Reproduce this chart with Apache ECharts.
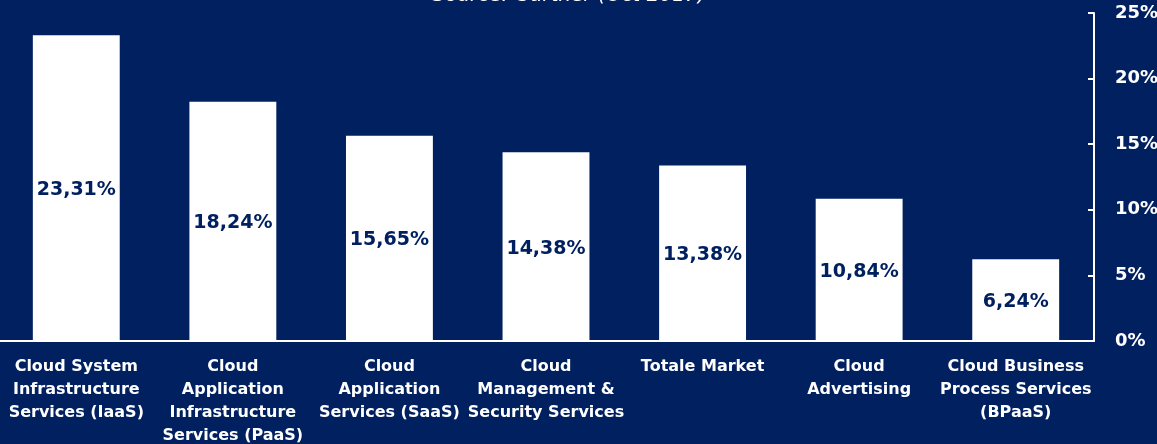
<!DOCTYPE html>
<html>
<head>
<meta charset="utf-8">
<script src="https://cdn.jsdelivr.net/npm/echarts@6/dist/echarts.min.js"></script>
<style>
  html, body { margin: 0; padding: 0; background: #002060; }
  #chart { width: 1157px; height: 444px; }
</style>
</head>
<body>
<div id="chart"></div>
<script>
// data
const categories = [
  'Cloud System\nInfrastructure\nServices (IaaS)',
  'Cloud\nApplication\nInfrastructure\nServices (PaaS)',
  'Cloud\nApplication\nServices (SaaS)',
  'Cloud\nManagement &\nSecurity Services',
  'Totale Market',
  'Cloud\nAdvertising',
  'Cloud Business\nProcess Services\n(BPaaS)'
]
const growth = [23.31, 18.24, 15.65, 14.38, 13.38, 10.84, 6.24]
const yTicks = [0, 5, 10, 15, 20, 25]

const navy = '#002060'
const fontFamily = '"DejaVu Sans", sans-serif'

const chart = echarts.init(document.getElementById('chart'))

chart.setOption({
  backgroundColor: navy,
  animation: false,
  title: {
    text: 'Source: Gartner (Oct 2017)',
    left: 564,
    textAlign: 'center',
    top: -19,
    textStyle: {
      color: '#fff',
      fontSize: 20,
      fontStyle: 'italic',
      fontWeight: 'normal',
      fontFamily: fontFamily
    }
  },
  grid: {
    left: -2,
    right: 63,
    top: 13,
    bottom: 103,
    outerBoundsMode: 'none'
  },
  xAxis: {
    type: 'category',
    data: categories,
    axisLine: { lineStyle: { color: '#fff', width: 2 } },
    axisTick: { show: false },
    axisLabel: {
      color: '#fff',
      fontSize: 16,
      fontWeight: 'bold',
      fontFamily: fontFamily,
      lineHeight: 23,
      margin: 14,
      interval: 0
    }
  },
  yAxis: {
    type: 'value',
    position: 'right',
    min: yTicks[0],
    max: yTicks[yTicks.length - 1],
    interval: 5,
    splitLine: { show: false },
    axisLine: { show: true, lineStyle: { color: '#fff', width: 2 } },
    axisTick: { show: true, inside: true, length: 6, lineStyle: { color: '#fff', width: 2 } },
    axisLabel: {
      color: '#fff',
      fontSize: 18,
      fontWeight: 'bold',
      fontFamily: fontFamily,
      margin: 21,
      formatter: v => v + '%'
    }
  },
  series: [{
    type: 'bar',
    data: growth,
    barWidth: '55.5%',
    itemStyle: { color: '#fff' },
    label: {
      show: true,
      position: 'inside',
      offset: [0, 2],
      color: navy,
      fontSize: 19,
      fontWeight: 'bold',
      fontFamily: fontFamily,
      formatter: p => p.value.toFixed(2).replace('.', ',') + '%'
    }
  }]
})
</script>
</body>
</html>
